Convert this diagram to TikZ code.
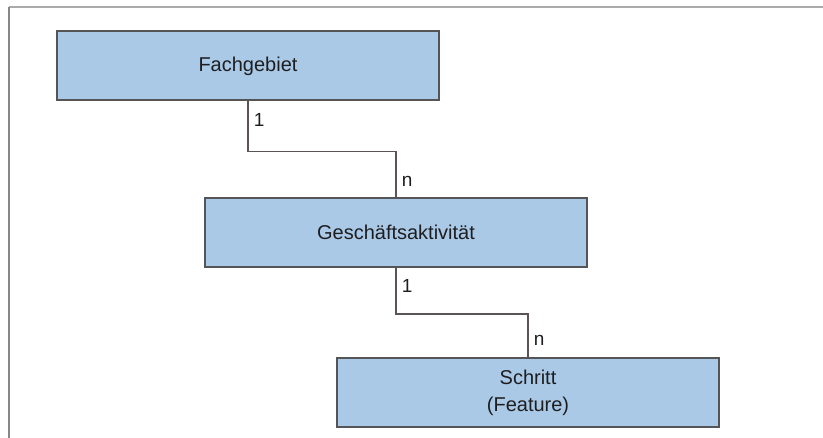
\documentclass[tikz,border=0pt]{standalone}
\usepackage{fontspec}
\setmainfont{Liberation Sans}
\usepackage{xcolor}
\usepackage{tikz}
\usetikzlibrary{positioning}
\definecolor{boxfill}{RGB}{170,201,231}
\definecolor{boxline}{RGB}{85,85,88}
\definecolor{linkline}{RGB}{92,84,84}
\definecolor{textdark}{RGB}{30,30,32}
\definecolor{frametop}{RGB}{170,170,172}
\definecolor{frameleft}{RGB}{135,135,138}
\tikzset{
  entity/.style={rectangle, draw=boxline, line width=1pt, fill=boxfill,
                 minimum width=191pt, minimum height=34.5pt, inner sep=0pt,
                 align=center, text=textdark,
                 font=\fontsize{10}{13.5}\selectfont},
  link/.style={draw=linkline, line width=0.9pt},
  card/.style={font=\fontsize{9.5}{11}\selectfont, text=textdark,
               inner sep=1pt},
  framerule/.style={line width=0.8pt},
}

\begin{document}
\begin{tikzpicture}[x=0.5pt, y=-0.5pt]
  \useasboundingbox (0,0) rectangle (823,438);
  \draw[framerule, frametop] (9,7) -- (823,7);
  \draw[framerule, frameleft] (9,7) -- (9,438);

  \node[entity] (fach) at (248,66) {Fachgebiet};
  \node[entity] (gesch) at (396,232.5) {Geschäftsaktivität};
  \node[entity] (schritt) at (528,392.5) {Schritt\\(Feature)};

  \draw[link] (fach.south) -- node[card, pos=0.36, right=1.5pt] (c1) {1} ++(0,50)
     -| node[card, pos=0.83, right=1.5pt] (cn1) {n} (gesch.north);
  \draw[link] (gesch.south) -- node[card, pos=0.39, right=1.5pt] (c2) {1} ++(0,46)
     -| node[card, pos=0.81, right=1.5pt] (cn2) {n} (schritt.north);
\end{tikzpicture}
\end{document}
